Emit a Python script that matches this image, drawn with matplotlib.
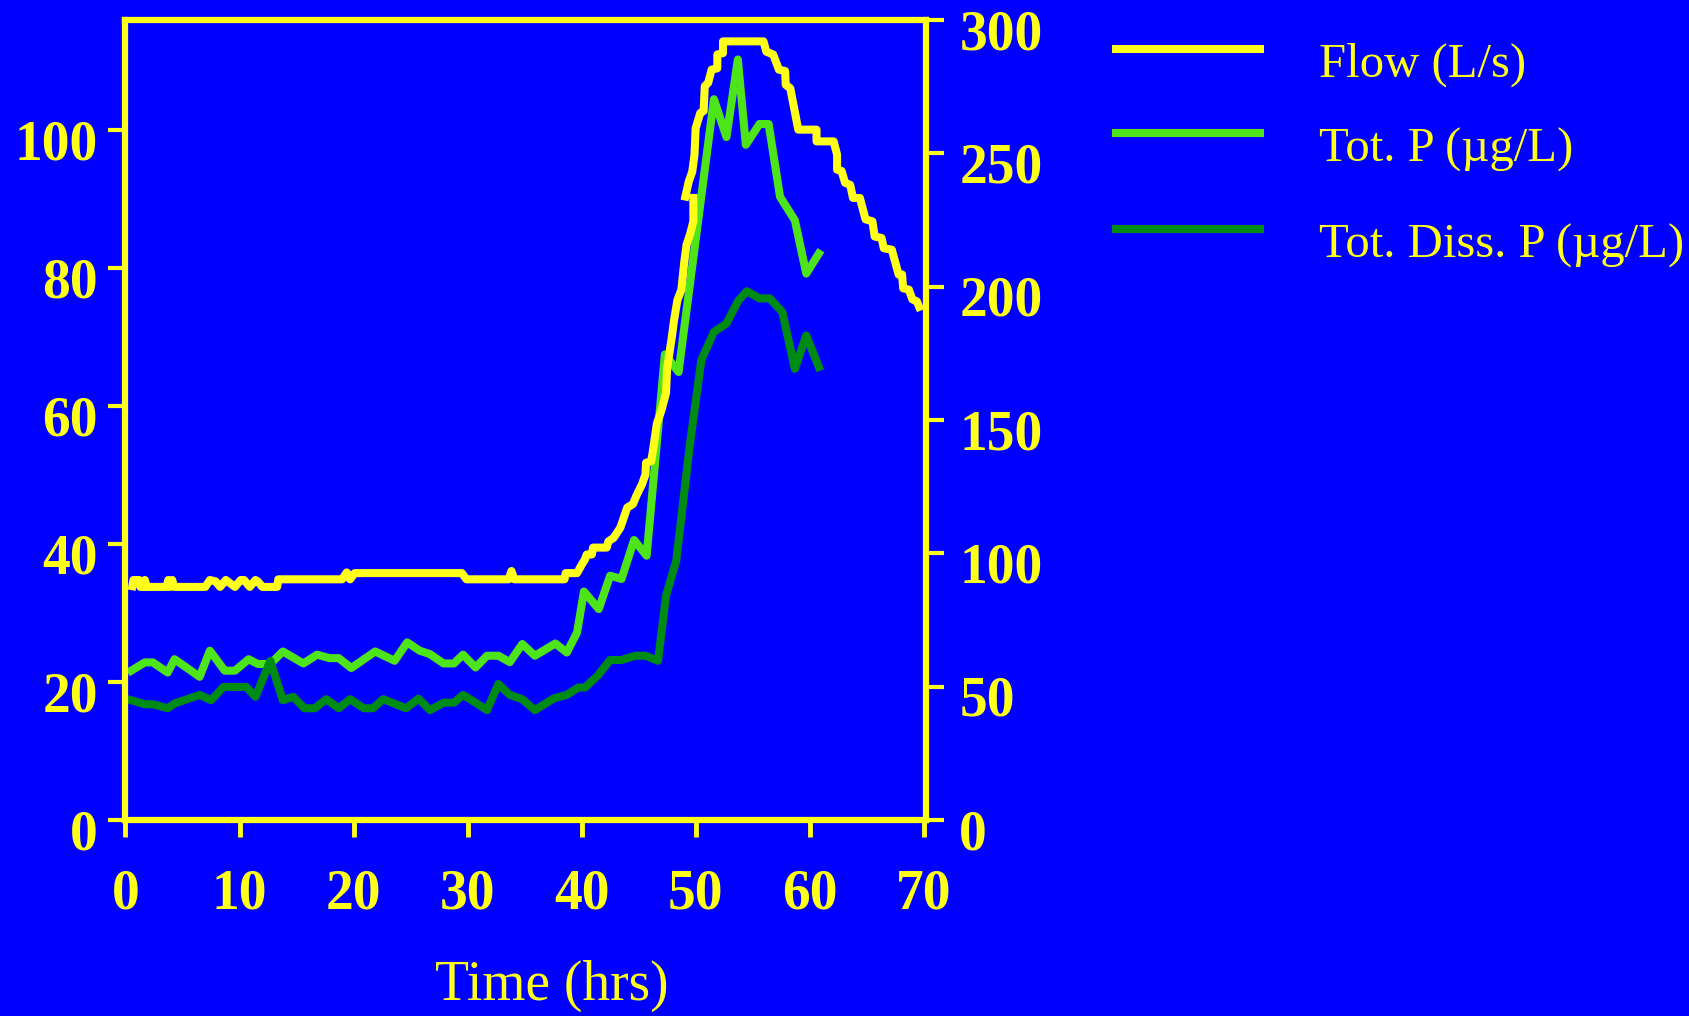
import numpy as np
import matplotlib
matplotlib.use('Agg')
import matplotlib.pyplot as plt
from matplotlib.lines import Line2D
from matplotlib.transforms import ScaledTranslation

BLUE = '#0000ff'
YELLOW = '#ffff1a'
LGREEN = '#4de519'
DGREEN = '#008c14'

# flow (L/s) on the left axis, the record restarts a bit before 50 h -> nan gap
flow_t = [0.6, 0.7, 1.2, 1.3, 1.6, 1.7, 1.85, 3.6, 3.75, 3.9, 4.1, 4.25, 7.0, 7.4, 7.9,
          8.3, 8.8, 9.6, 10.1, 10.4, 10.9, 11.4, 11.6, 12.0, 13.3, 13.4, 19.0, 19.4, 19.7,
          20.1, 29.5, 29.9, 33.6, 33.85, 34.1, 38.5, 38.6, 39.6, 40.0, 40.3, 40.45, 40.9,
          41.0, 42.2, 42.35, 42.8, 43.4, 44.0, 44.5, 44.8, 45.3, 45.6, 45.65, 46.1, 46.25,
          46.6, 47.0, 47.4, 47.5, 47.9, 48.1, 48.4, 48.75, 49.0, 49.2, 49.5, 49.8, 49.8,
          49.8,
          49.1, 49.4, 49.7, 49.9, 50.0, 50.4, 50.7, 50.8, 51.1, 51.4, 51.9, 51.9, 52.4, 52.4,
          55.95, 56.2, 56.8, 57.3, 57.85, 57.9, 58.3, 59.0, 60.6, 60.6, 62.1, 62.4, 62.4,
          62.8, 63.1, 63.55, 63.8, 64.4, 64.9, 65.5, 65.7, 66.3, 66.5, 67.2, 67.8, 68.1,
          68.2, 68.7, 69.0, 69.4, 69.6]
flow_v = [33.9, 34.8, 34.8, 33.8, 33.8, 34.8, 33.8, 33.8, 34.8, 33.8, 34.8, 33.8, 33.8, 34.8, 34.6,
          33.8, 34.8, 33.8, 34.8, 34.8, 33.8, 34.8, 34.6, 33.8, 33.8, 34.9, 34.9, 35.9, 34.9,
          35.8, 35.8, 34.9, 34.9, 36.1, 34.9, 34.9, 35.8, 35.8, 37.0, 37.8, 38.5, 38.5,
          39.5, 39.5, 40.4, 40.9, 42.4, 45.3, 45.8, 47.0, 48.7, 50.1, 51.8, 52.0, 53.5,
          57.5, 59.4, 61.9, 65.5, 69.9, 72.4, 75.4, 76.9, 80.9, 83.4, 84.9, 86.8, 90.2,
          np.nan,
          90.4, 92.6, 94.0, 96.5, 100.3, 102.5, 102.8, 106.4, 106.9, 108.8, 109.0, 111.0, 111.2, 112.9,
          112.9, 111.4, 111.0, 108.8, 108.6, 106.6, 106.1, 100.1, 100.1, 98.4, 98.4, 96.5, 94.3,
          94.1, 92.4, 92.1, 90.2, 90.2, 87.1, 86.8, 84.6, 84.4, 82.9, 82.7, 79.1, 79.1,
          77.1, 76.9, 75.5, 75.2, 74.4]

# total P (ug/L), right axis
tp_t = [0.5, 1.7, 2.4, 3.7, 4.3, 6.5, 7.4, 8.7, 9.6, 10.8, 11.6, 12.7, 13.8, 15.6, 16.8,
        17.9, 18.7, 19.8, 21.9, 23.6, 24.7, 25.8, 26.7, 27.9, 28.8, 29.6, 30.7, 31.7, 32.7,
        33.7, 34.8, 35.9, 37.7, 38.7, 39.6, 40.2, 41.5, 42.5, 43.5, 44.6, 45.7, 47.3, 48.5,
        51.6, 52.7, 53.7, 54.4, 55.6, 56.4, 57.4, 58.7, 59.7, 60.8]
tp_v = [56.0, 59.1, 59.1, 55.3, 60.3, 53.7, 63.5, 56.0, 56.0, 60.3, 58.5, 58.5, 63.2, 58.7, 62.0,
        60.7, 60.7, 57.0, 63.2, 59.7, 66.6, 63.5, 62.2, 58.7, 58.7, 62.0, 57.2, 61.6, 61.6,
        59.2, 66.0, 61.6, 66.2, 62.8, 70.3, 85.7, 79.1, 91.6, 90.4, 105.0, 99.1, 174.6, 168.0,
        270.3, 256.1, 285.2, 253.2, 261.0, 261.0, 233.7, 224.9, 204.9, 212.4]

# total dissolved P (ug/L), right axis
td_t = [0.5, 1.7, 2.4, 3.7, 4.3, 6.5, 7.5, 8.6, 10.6, 11.4, 12.7, 13.8, 14.7, 15.7, 16.6,
        17.6, 18.7, 19.7, 20.9, 21.7, 22.6, 24.6, 25.7, 26.7, 27.9, 28.8, 29.6, 30.7, 31.7,
        32.7, 33.7, 34.8, 35.9, 37.6, 38.7, 39.7, 40.3, 41.4, 42.5, 43.5, 44.7, 45.6, 46.7,
        47.4, 48.3, 49.5, 50.5, 51.6, 52.7, 53.75, 54.5, 55.6, 56.5, 57.6, 58.7, 59.7, 60.8]
td_v = [44.9, 43.4, 43.4, 41.9, 43.7, 46.9, 44.9, 49.9, 49.9, 46.2, 59.7, 44.9, 46.2, 41.9, 41.9,
        45.3, 41.9, 45.3, 41.9, 41.9, 45.3, 41.9, 45.5, 41.2, 44.0, 44.0, 46.9, 44.0, 41.2,
        51.0, 46.9, 45.3, 41.2, 45.7, 46.9, 49.7, 49.7, 54.1, 60.0, 60.0, 61.6, 61.6, 59.7,
        84.1, 97.3, 141.0, 172.5, 183.0, 186.2, 194.8, 198.3, 195.6, 195.6, 190.5, 169.2, 181.7, 169.9]

x_ticks = [0, 10, 20, 30, 40, 50, 60, 70]
left_ticks = [0, 20, 40, 60, 80, 100]
right_ticks = [0, 50, 100, 150, 200, 250, 300]
labels = ['Flow (L/s)', 'Tot. P (µg/L)', 'Tot. Diss. P (µg/L)']
colors = [YELLOW, LGREEN, DGREEN]

plt.rcParams['font.family'] = ['Liberation Serif', 'DejaVu Serif']

W, H = 1690, 1016
fig = plt.figure(figsize=(W / 100, H / 100), dpi=100, facecolor=BLUE)
ax = fig.add_axes([125.5 / W, 196 / H, 800.5 / W, 800 / H])
ax2 = ax.twinx()
ax.set_zorder(ax2.get_zorder() + 1)
ax.patch.set_visible(False)
ax2.patch.set_visible(True)
ax2.patch.set_facecolor(BLUE)

LW = 5.8
ax2.plot(tp_t, tp_v, color=LGREEN, lw=LW)
ax2.plot(td_t, td_v, color=DGREEN, lw=LW)
ax.plot(flow_t, flow_v, color=YELLOW, lw=LW)

ax.set_xlim(0, 70.2)
ax.set_ylim(0, 116)
ax2.set_ylim(0, 300)

for a in (ax, ax2):
    for s in a.spines.values():
        s.set_color(YELLOW)
        s.set_linewidth(4.5)
ax.spines['right'].set_visible(False)
for s in ('left', 'top', 'bottom'):
    ax2.spines[s].set_visible(False)

ax.set_xticks(x_ticks, labels=[str(v) for v in x_ticks], fontweight='bold')
ax.set_yticks(left_ticks, labels=[str(v) for v in left_ticks], fontweight='bold')
ax2.set_yticks(right_ticks, labels=[str(v) for v in right_ticks], fontweight='bold')
ax.tick_params(axis='x', colors=YELLOW, length=12, width=3.5, labelsize=40, pad=23)
ax.tick_params(axis='y', colors=YELLOW, length=12, width=3, labelsize=40, pad=8)
ax2.tick_params(axis='y', colors=YELLOW, length=13, width=3, labelsize=40, pad=11)

# y tick labels sit a little below their ticks in the original
shift = ScaledTranslation(0, -9 / 100, fig.dpi_scale_trans)
for lbl in ax.get_yticklabels() + ax2.get_yticklabels():
    lbl.set_transform(lbl.get_transform() + shift)

ax.set_xlabel('Time (hrs)', fontsize=40, color=YELLOW)
ax.xaxis.set_label_coords(0.533, -0.175)

# legend drawn by hand (line sits above the text like the original)
leg_line_y = [49, 133, 229]
leg_text_y = [77, 162, 258]
for lab, col, ly, ty in zip(labels, colors, leg_line_y, leg_text_y):
    fig.add_artist(Line2D([1112 / W, 1264 / W], [1 - ly / H] * 2, color=col, lw=LW,
                          solid_capstyle='butt'))
    fig.text(1319 / W, 1 - ty / H, lab, fontsize=35, color=YELLOW, va='baseline')

fig.savefig('out.png', dpi=100, facecolor=BLUE)
